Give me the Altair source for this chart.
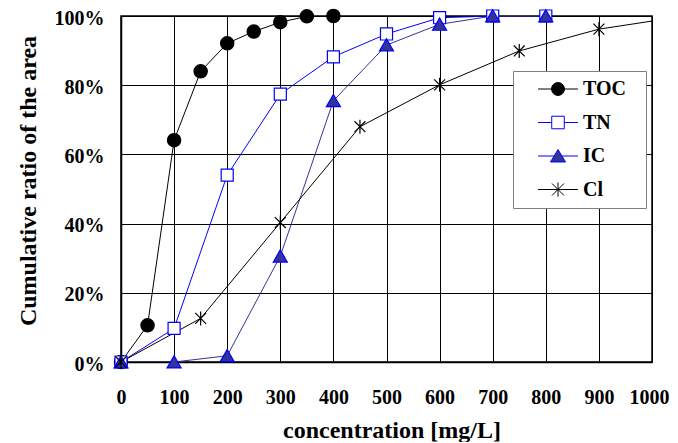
import altair as alt
import pandas as pd

series = ["TOC", "TN", "IC", "Cl"]
toc_x = [0, 50, 100, 150, 200, 250, 300, 350, 400]
toc_y = [0, 10.6, 64.1, 84.0, 92.1, 95.5, 98.2, 99.9, 100]
tn_x = [0, 100, 200, 300, 400, 500, 600, 700, 800]
tn_y = [0, 9.7, 54.0, 77.4, 88.2, 94.8, 99.5, 100, 100]
ic_x = [0, 100, 200, 300, 400, 500, 600, 700, 800]
ic_y = [0, 0, 1.8, 30.6, 75.5, 91.6, 97.6, 100, 100]
cl_x = [0, 150, 300, 450, 600, 750, 900, 1050]
cl_y = [0, 12.6, 40.3, 68.0, 80.1, 89.9, 96.2, 99.7]
x_ticks = [0, 100, 200, 300, 400, 500, 600, 700, 800, 900, 1000]
y_ticks = [0, 0.2, 0.4, 0.6, 0.8, 1.0]

line_colors = ["#000000", "#0000FF", "#333399", "#000000"]
marker_fill = ["#000000", "#FFFFFF", "#333399", "transparent"]
marker_stroke = ["#000000", "#0000FF", "#0000FF", "#000000"]

# marker paths for the plot (size 196 -> 7 px per unit)
plot_shapes = [
    "M-0.95,0A0.95,0.95,0,1,0,0.95,0A0.95,0.95,0,1,0,-0.95,0Z",
    "M-0.86,-0.86H0.86V0.86H-0.86Z",
    "M0,-0.9L1,0.85L-1,0.85Z",
    "M0,-1V1M-0.78,-0.78L0.78,0.78M-0.78,0.78L0.78,-0.78",
]
# legend paths: marker with line segment (size 361 -> 9.5 px per unit)
pad = "M-3.9,0M8.2,0"
legend_shapes = [
    pad + "M-2.1,0H-0.68M0.68,0H2.1M-0.68,0A0.68,0.68,0,1,0,0.68,0A0.68,0.68,0,1,0,-0.68,0Z",
    pad + "M-2.1,0H-0.66M0.66,0H2.1M-0.66,-0.66H0.66V0.66H-0.66Z",
    pad + "M-2.1,0H-0.41M0.41,0H2.1M0,-0.68L0.79,0.63L-0.79,0.63Z",
    pad + "M-2.1,0H2.1M0,-0.74V0.74M-0.63,-0.63L0.63,0.63M-0.63,0.63L0.63,-0.63",
]

rows = []
for name, xs, ys in [("TOC", toc_x, toc_y), ("TN", tn_x, tn_y), ("IC", ic_x, ic_y), ("Cl", cl_x, cl_y)]:
    for xv, yv in zip(xs, ys):
        rows.append({"series": name, "x": xv, "y": yv / 100.0})
df = pd.DataFrame(rows)

FONT = "Liberation Serif"

xenc = alt.X("x:Q", scale=alt.Scale(domain=[0, 1000], nice=False),
             axis=alt.Axis(values=x_ticks, format="d", ticks=False, labelPadding=25,
                           labelFlush=False, labelOverlap=False,
                           labelOffset={"condition": {"test": "datum.value >= 1000", "value": -3}, "value": 0},
                           title="concentration [mg/L]", titleX=270.5, titleY=75.5,
                           titleBaseline="alphabetic", titleAlign="center", titleFontSize=24))
yenc = alt.Y("y:Q", scale=alt.Scale(domain=[0, 1], nice=False),
             axis=alt.Axis(values=y_ticks, format=".0%", ticks=False, labelPadding=17,
                           labelOffset=2, labelOverlap=False,
                           title="Cumulative ratio of the area", titleAngle=270,
                           titleX=-86, titleY=164.5, titleBaseline="alphabetic",
                           titleAlign="center", titleFontSize=24))

base = alt.Chart(df)

lines = base.mark_line(clip=True, strokeWidth=1).encode(
    x=xenc, y=yenc,
    stroke=alt.Stroke("series:N", scale=alt.Scale(domain=series, range=line_colors), legend=None),
    order="x:Q",
)

points = base.transform_filter(alt.datum.x <= 1000).mark_point(
    size=196, opacity=1, strokeWidth=1.2
).encode(
    x=xenc, y=yenc,
    shape=alt.Shape("series:N", scale=alt.Scale(domain=series, range=plot_shapes), legend=None),
    fill=alt.Fill("series:N", scale=alt.Scale(domain=series, range=marker_fill), legend=None),
    stroke=alt.Stroke("series:N", scale=alt.Scale(domain=series, range=marker_stroke), legend=None),
)

leg = dict(title=None, orient="none", legendX=392, legendY=55, strokeColor="#808080",
           fillColor="white", padding=8, labelFont=FONT, labelFontSize=20,
           labelFontWeight="bold", labelColor="black", labelOffset=15, symbolOffset=27,
           rowPadding=13.5, symbolSize=361, symbolStrokeWidth=1, symbolOpacity=1)

legend_layer = base.transform_filter("false").mark_point(size=361, opacity=1, strokeWidth=1).encode(
    x=xenc, y=yenc,
    shape=alt.Shape("series:N", scale=alt.Scale(domain=series, range=legend_shapes), legend=alt.Legend(**leg)),
    fill=alt.Fill("series:N", scale=alt.Scale(domain=series, range=marker_fill), legend=alt.Legend(**leg)),
    stroke=alt.Stroke("series:N", scale=alt.Scale(domain=series, range=marker_stroke), legend=alt.Legend(**leg)),
)

chart = alt.layer(lines, points, legend_layer).resolve_scale(
    shape="independent", fill="independent", stroke="independent"
).properties(
    width=531, height=346,
    padding={"left": 113, "top": 8, "right": 18, "bottom": 80},
    autosize=alt.AutoSizeParams(type="none"),
    background="white",
).configure_view(
    stroke="black", strokeWidth=1.5
).configure_axis(
    labelFont=FONT, labelFontSize=20, labelFontWeight="bold", labelColor="black",
    titleFont=FONT, titleFontWeight="bold", titleColor="black",
    grid=True, gridColor="black", gridWidth=1, gridOpacity=1,
    domainColor="black", domainWidth=1.5,
)

chart.save("out.html", embed_options={"renderer": "svg", "actions": False})
